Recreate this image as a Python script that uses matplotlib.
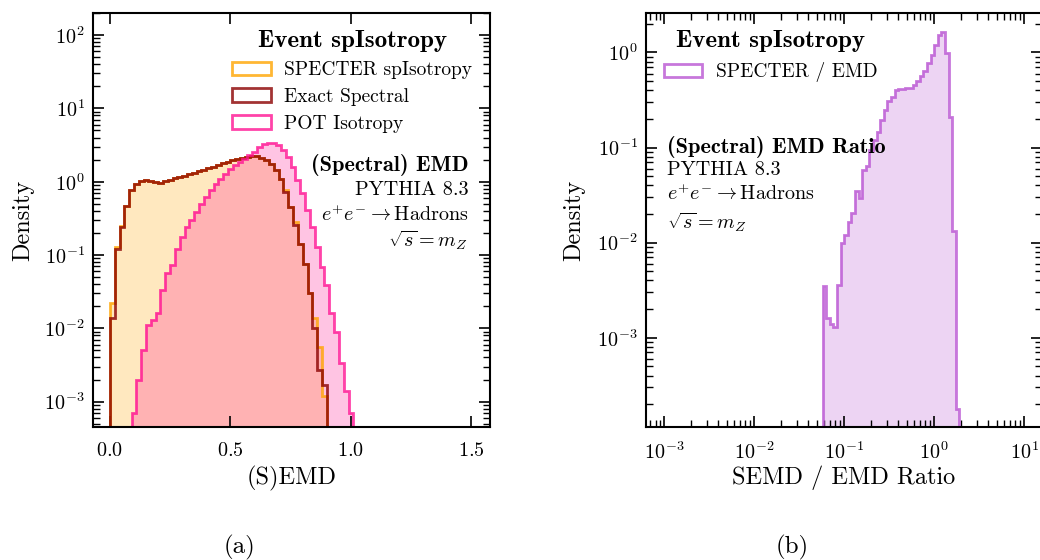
import numpy as np
import matplotlib
matplotlib.use("Agg")
import matplotlib.pyplot as plt

plt.rcParams.update({
    "font.family": "serif",
    "font.serif": ["cmr10"],
    "mathtext.fontset": "cm",
    "axes.formatter.use_mathtext": True,
    "axes.unicode_minus": False,
    "axes.linewidth": 1.5,
    "xtick.direction": "in",
    "ytick.direction": "in",
    "xtick.top": True,
    "ytick.right": True,
    "xtick.major.size": 8,
    "ytick.major.size": 8,
    "xtick.minor.size": 5,
    "ytick.minor.size": 5,
    "xtick.major.width": 1.2,
    "ytick.major.width": 1.2,
    "xtick.minor.width": 1.0,
    "ytick.minor.width": 1.0,
    "xtick.major.pad": 10.5,
    "xtick.minor.pad": 10.5,
    "ytick.major.pad": 6,
    "ytick.minor.pad": 6,
    "xtick.labelsize": 14.5,
    "ytick.labelsize": 14.5,
    "axes.labelsize": 17.5,
})

# ---- panel (a): (S)EMD densities, 0.02 wide bins ----
emd_edges = np.linspace(0.0, 0.9, 46)
exact_spectral = [0.014, 0.12, 0.24, 0.46, 0.78, 0.93, 1.02, 1.05, 1.01, 0.99,
                  0.96, 1.03, 1.07, 1.12, 1.16, 1.20, 1.26, 1.33, 1.40, 1.46,
                  1.52, 1.60, 1.67, 1.77, 1.87, 1.97, 2.05, 2.12, 2.17, 2.21,
                  2.22, 2.12, 1.95, 1.75, 1.45, 1.10, 0.72, 0.45, 0.26, 0.14,
                  0.075, 0.030, 0.010, 0.0027, 0.0017]
specter = [0.022, 0.13, 0.25, 0.46, 0.78, 0.93, 1.02, 1.05, 1.01, 0.99,
           0.96, 1.03, 1.07, 1.12, 1.16, 1.20, 1.26, 1.33, 1.40, 1.46,
           1.52, 1.60, 1.67, 1.77, 1.87, 1.97, 2.05, 2.12, 2.17, 2.21,
           2.22, 2.12, 1.95, 1.75, 1.45, 1.10, 0.76, 0.45, 0.28, 0.14,
           0.075, 0.030, 0.014, 0.0055, 0.0012]

pot_edges = np.linspace(0.09, 1.01, 47)
pot_isotropy = [0.0007, 0.0020, 0.005, 0.011, 0.0129, 0.016, 0.033, 0.056, 0.073, 0.12,
                0.177, 0.24, 0.30, 0.39, 0.50, 0.62, 0.77, 0.94, 1.10, 1.29,
                1.51, 1.68, 1.86, 2.07, 2.30, 2.55, 2.98, 3.25, 3.38, 3.40,
                3.15, 2.69, 2.18, 1.59, 1.05, 0.70, 0.41, 0.24, 0.129, 0.069,
                0.039, 0.016, 0.0089, 0.0034, 0.0014, 0.0007]

# ---- panel (b): SEMD / EMD ratio, log bins of 0.04 dex ----
ratio_edges = np.logspace(-1.24, 0.28, 39)
ratio = [0.0035, 0.0016, 0.0014, 0.00131, 0.0036, 0.0099, 0.012, 0.0166, 0.0207, 0.0352,
         0.0293, 0.0582, 0.0642, 0.0946, 0.12, 0.147, 0.196, 0.249, 0.305, 0.344,
         0.398, 0.41, 0.415, 0.42, 0.425, 0.457, 0.495, 0.559, 0.631, 0.773,
         0.946, 1.205, 1.53, 1.66, 0.985, 0.212, 0.0131, 0.00018]

series_a = [
    ("SPECTER spIsotropy", emd_edges, specter, "orange", True),
    ("Exact Spectral", emd_edges, exact_spectral, "darkred", False),
    ("POT Isotropy", pot_edges, pot_isotropy, "deeppink", True),
]

title_font = {"family": "cmb10", "size": 18}

fig = plt.figure(figsize=(10.4, 5.6), dpi=100)
ax1 = fig.add_axes([93 / 1040, 133 / 560, 397 / 1040, 414 / 560])
ax2 = fig.add_axes([646 / 1040, 133 / 560, 396 / 1040, 414 / 560])

# panel (a)
for label, edges, vals, col, filled in series_a:
    centers = 0.5 * (edges[1:] + edges[:-1])
    if filled:
        ax1.hist(centers, bins=edges, weights=vals, histtype="stepfilled",
                 color=col, alpha=0.25, lw=0)
    ax1.hist(centers, bins=edges, weights=vals, histtype="step",
             color=col, alpha=0.8, lw=2, label=label)

ax1.set_yscale("log")
ax1.set_xlim(-0.07, 1.577)
ax1.set_ylim(4.5e-4, 200)
ax1.set_xticks([0.0, 0.5, 1.0, 1.5])
ax1.set_xlabel("(S)EMD")
ax1.set_ylabel("Density")
ax1.xaxis.set_label_coords(0.5, -0.094)
ax1.yaxis.set_label_coords(-0.149, 0.5)

ax1.legend(loc="upper right", bbox_to_anchor=(1.0, 1.0), frameon=False,
           fontsize=14, handlelength=2.0, handleheight=0.7,
           handletextpad=0.7, labelspacing=0.45,
           title="Event spIsotropy", title_fontproperties=title_font)

ax1.text(0.945, 0.633, "(Spectral) EMD", transform=ax1.transAxes,
         ha="right", va="center", fontsize=16, family="cmb10")
ax1.text(0.945, 0.572, "PYTHIA 8.3", transform=ax1.transAxes,
         ha="right", va="center", fontsize=14.5)
ax1.text(0.945, 0.512, r"$e^{+}e^{-} \rightarrow \mathrm{Hadrons}$",
         transform=ax1.transAxes, ha="right", va="center", fontsize=14.5)
ax1.text(0.945, 0.452, r"$\sqrt{s} = m_Z$", transform=ax1.transAxes,
         ha="right", va="center", fontsize=14.5)

# panel (b)
rc = np.sqrt(ratio_edges[1:] * ratio_edges[:-1])
ax2.hist(rc, bins=ratio_edges, weights=ratio, histtype="stepfilled",
         color="mediumorchid", alpha=0.25, lw=0)
ax2.hist(rc, bins=ratio_edges, weights=ratio, histtype="step",
         color="mediumorchid", alpha=0.8, lw=2, label="SPECTER / EMD")
ax2.set_xscale("log")
ax2.set_yscale("log")
ax2.set_xlim(6.27e-4, 15.8)
ax2.set_ylim(1.15e-4, 2.6)
ax2.set_xlabel("SEMD / EMD Ratio")
ax2.set_ylabel("Density")
ax2.xaxis.set_label_coords(0.5, -0.092)
ax2.yaxis.set_label_coords(-0.154, 0.5)

ax2.legend(loc="upper left", bbox_to_anchor=(0.0, 1.0), frameon=False,
           fontsize=14, handlelength=2.0, handleheight=0.7,
           handletextpad=0.7, title="Event spIsotropy",
           title_fontproperties=title_font)

ax2.text(0.053, 0.676, "(Spectral) EMD Ratio", transform=ax2.transAxes,
         ha="left", va="center", fontsize=16, family="cmb10", zorder=5)
ax2.text(0.053, 0.621, "PYTHIA 8.3", transform=ax2.transAxes,
         ha="left", va="center", fontsize=14.5)
ax2.text(0.053, 0.563, r"$e^{+}e^{-} \rightarrow \mathrm{Hadrons}$",
         transform=ax2.transAxes, ha="left", va="center", fontsize=14.5)
ax2.text(0.053, 0.495, r"$\sqrt{s} = m_Z$", transform=ax2.transAxes,
         ha="left", va="center", fontsize=14.5)

fig.text(239 / 1040, 13 / 560, "(a)", ha="center", va="center", fontsize=18)
fig.text(792 / 1040, 13 / 560, "(b)", ha="center", va="center", fontsize=18)

fig.savefig("out.png", dpi=100)
